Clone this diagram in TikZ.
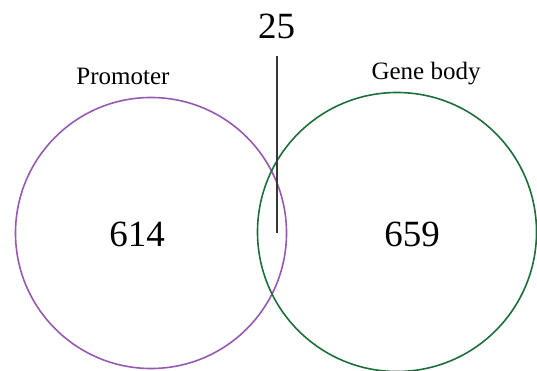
\documentclass[tikz,border=0pt]{standalone}
\usepackage{fontspec}
\setmainfont{Liberation Serif}
\definecolor{promcol}{RGB}{150,90,180}
\definecolor{genecol}{RGB}{30,110,60}
\definecolor{linecol}{RGB}{55,55,55}
\tikzset{
  setcircle/.style={circle, draw, line width=1.6pt, inner sep=0pt, minimum size=#1},
  setlabel/.style={anchor=base, inner sep=0pt, font=\fontsize{25}{28}\selectfont},
  countlabel/.style={anchor=base, inner sep=0pt, font=\fontsize{37}{40}\selectfont},
}
\begin{document}
\begin{tikzpicture}[x=1pt,y=-1pt]
\useasboundingbox (0,0) rectangle (537,371);
\node[setcircle=271pt, draw=promcol] (prom) at (151,233) {};
\node[setcircle=279pt, draw=genecol] (gene) at (397,232) {};
\node[setlabel] (promlab) at (123,85) {Promoter};
\node[setlabel] (genelab) at (426,80) {Gene body};
\node[countlabel] (n614) at (137,246.5) {614};
\node[countlabel] (n659) at (412,246.5) {659};
\node[countlabel] (n25) at (276.5,38.3) {25};
\coordinate (ltop) at (277,56);
\coordinate (lbot) at (277,233);
\draw[linecol, line width=1.8pt] (ltop) -- (lbot);
\end{tikzpicture}
\end{document}
